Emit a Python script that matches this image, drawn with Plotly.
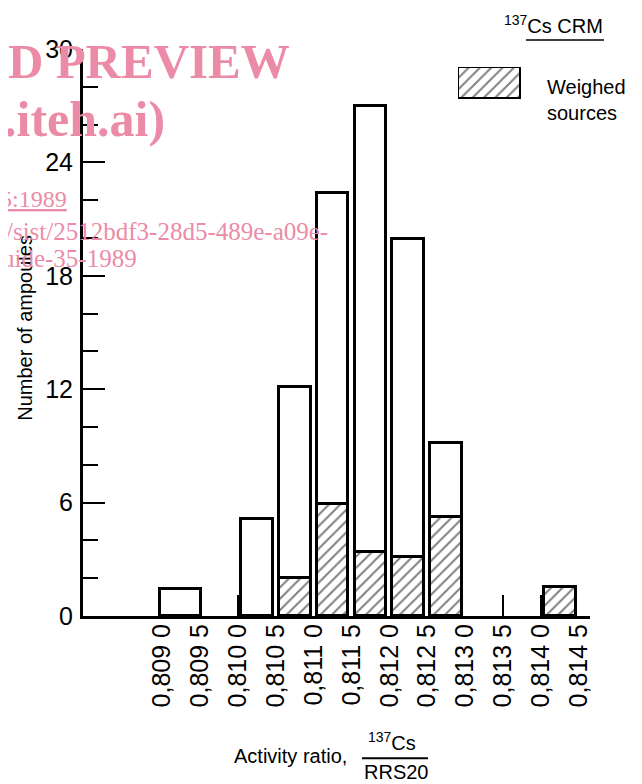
import plotly.graph_objects as go

# ---- data ----
bin_starts = [0.8090, 0.8095, 0.8100, 0.8105, 0.8110, 0.8115, 0.8120, 0.8125, 0.8130, 0.8135, 0.8140]
all_ampoules = [1.45, 0, 5.15, 12.1, 22.4, 27.0, 19.95, 9.15, 0, 0, 1.55]
weighed_sources = [0, 0, 0, 2.0, 5.95, 3.4, 3.1, 5.25, 0, 0, 1.55]
x_tick_values = [0.8090, 0.8095, 0.8100, 0.8105, 0.8110, 0.8115, 0.8120, 0.8125, 0.8130, 0.8135, 0.8140, 0.8145]
x_tick_labels = ["0,809 0", "0,809 5", "0,810 0", "0,810 5", "0,811 0", "0,811 5",
                 "0,812 0", "0,812 5", "0,813 0", "0,813 5", "0,814 0", "0,814 5"]
y_tick_values = [0, 6, 12, 18, 24, 30]
bin_width = 0.0005

# ---- layout geometry (page body adds an 8px offset) ----
OFF = 8
W_FIG, H_FIG = 642 - OFF, 784 - OFF
PL, PT = 83, 49          # plot-area top-left in screen pixels
PW, PH = 507, 567.5
L, T = PL - OFF, PT - OFF
R = W_FIG - L - PW
B = H_FIG - T - PH


def fx(px):
    return (px - PL) / PW


def fy(py):
    return (PT + PH - py) / PH


SANS = "Liberation Sans, Arial, Helvetica, sans-serif"
SERIF = "Liberation Serif, Times New Roman, serif"
PINK = "rgb(236,139,168)"
HATCH = dict(shape="/", fgcolor="black", bgcolor="white", size=8, solidity=0.25)

centers = [s + bin_width / 2 for s in bin_starts]
widths = [bin_width * 1.08 if i == 0 else bin_width * 0.84 for i in range(len(bin_starts))]

fig = go.Figure()
fig.add_trace(go.Bar(
    x=centers, y=[v if v else None for v in all_ampoules], width=widths,
    marker=dict(color="white", line=dict(color="black", width=3)),
    showlegend=False, hoverinfo="skip"))
fig.add_trace(go.Bar(
    x=centers, y=[v if v else None for v in weighed_sources], width=widths,
    marker=dict(color="white", line=dict(color="black", width=3), pattern=HATCH),
    showlegend=False, hoverinfo="skip"))
# helper trace for the short baseline ticks
fig.add_trace(go.Scatter(x=[x_tick_values[0]], y=[0], xaxis="x2", mode="markers",
                         marker=dict(opacity=0), showlegend=False, hoverinfo="skip"))
# legend swatch (inset axes)
fig.add_trace(go.Bar(x=[0], y=[1], width=[1], xaxis="x3", yaxis="y3", cliponaxis=False,
                     marker=dict(color="white", line=dict(color="black", width=3), pattern=HATCH),
                     showlegend=False, hoverinfo="skip"))

x_lo = 0.8090 - (162 - PL) / 37.9 * bin_width
x_hi = 0.8140 + (PL + PW - 541) / 37.9 * bin_width

TICKFONT = dict(family=SANS, size=25, color="black")

fig.update_layout(
    width=W_FIG, height=H_FIG,
    margin=dict(l=L, r=R, t=T, b=B, autoexpand=False),
    paper_bgcolor="white", plot_bgcolor="white",
    barmode="overlay", bargap=0,
    xaxis=dict(range=[x_lo, x_hi], showline=True, linewidth=3, linecolor="black",
               ticks="", tickvals=x_tick_values, ticktext=x_tick_labels, tickangle=-90,
               tickfont=TICKFONT, automargin=False, ticklabelstandoff=-5,
               showgrid=False, zeroline=False, fixedrange=True),
    xaxis2=dict(overlaying="x", matches="x", anchor="y", side="bottom",
                tickvals=[0.8100, 0.8135, 0.8140], ticks="inside", ticklen=21, tickwidth=2,
                tickcolor="black", showticklabels=False, showline=False, showgrid=False, zeroline=False),
    yaxis=dict(range=[0, 30], showline=True, linewidth=3, linecolor="black",
               ticks="inside", ticklen=22, tickwidth=2, tickcolor="black",
               tickvals=y_tick_values, ticklabelstandoff=2, automargin=False,
               minor=dict(dtick=2, ticks="inside", ticklen=15, tickwidth=2, tickcolor="black", showgrid=False),
               tickfont=TICKFONT,
               showgrid=False, zeroline=False, fixedrange=True),
    xaxis3=dict(domain=[fx(458), fx(521)], anchor="y3", range=[-0.5, 0.5], visible=False),
    yaxis3=dict(domain=[fy(99), fy(67)], anchor="x3", range=[0, 1], visible=False),
)

ann = [
    dict(text="Number of ampoules", x=fx(25), y=fy(328), textangle=-90,
         xanchor="center", yanchor="middle", font=dict(family=SANS, size=20)),
    dict(text="Weighed<br>sources", x=fx(545), y=fy(100), xanchor="left", yanchor="middle",
         align="left", font=dict(family=SANS, size=20)),
    dict(text="<sup>137</sup>Cs CRM", x=fx(605), y=fy(24), xanchor="right", yanchor="middle",
         font=dict(family=SANS, size=20)),
    dict(text="Activity ratio,", x=fx(349), y=fy(757), xanchor="right", yanchor="middle",
         font=dict(family=SANS, size=20)),
    dict(text="<sup>137</sup>Cs", x=fx(392), y=fy(742), xanchor="center", yanchor="middle",
         font=dict(family=SANS, size=20)),
    dict(text="RRS20", x=fx(396), y=fy(773), xanchor="center", yanchor="middle",
         font=dict(family=SANS, size=20)),
    # watermark
    dict(text="<b>D PREVIEW</b>", x=fx(6), y=fy(62), xanchor="left", yanchor="middle",
         font=dict(family=SERIF, size=49, color=PINK)),
    dict(text="<b>.iteh.ai)</b>", x=fx(2), y=fy(119), xanchor="left", yanchor="middle",
         font=dict(family=SERIF, size=50, color=PINK)),
    dict(text="<u>5:1989</u>", x=fx(-2), y=fy(199), xanchor="left", yanchor="middle",
         font=dict(family=SERIF, size=24, color=PINK)),
    dict(text="/sist/2512bdf3-28d5-489e-a09e-", x=fx(4), y=fy(232), xanchor="left", yanchor="middle",
         font=dict(family=SERIF, size=25, color=PINK)),
    dict(text="uide-35-1989", x=fx(0), y=fy(259), xanchor="left", yanchor="middle",
         font=dict(family=SERIF, size=25, color=PINK)),
]
for a in ann:
    a.update(xref="paper", yref="paper", showarrow=False)
    a.setdefault("font", {}).setdefault("color", "black")
fig.update_layout(annotations=ann)

fig.update_layout(shapes=[
    dict(type="line", xref="paper", yref="paper", x0=fx(526), x1=fx(604), y0=fy(40), y1=fy(40),
         line=dict(color="black", width=1.5)),
    dict(type="line", xref="paper", yref="paper", x0=fx(362), x1=fx(428), y0=fy(759), y1=fy(759),
         line=dict(color="black", width=2)),
])

fig.write_html("out.html")
